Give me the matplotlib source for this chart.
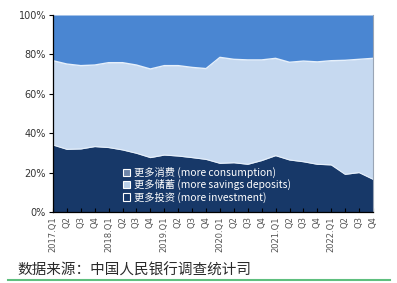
import numpy as np
import matplotlib
matplotlib.use("Agg")
import matplotlib.pyplot as plt
from matplotlib.patches import Patch
from matplotlib.lines import Line2D

# 季度标签
quarters = []
for y in range(2017, 2023):
    quarters += [f"{y}.Q1", "Q2", "Q3", "Q4"]

# 底部深色区域（%）
dark = [34.0, 31.8, 32.0, 33.2, 32.7, 31.5, 29.8, 27.6, 28.9, 28.4, 27.6, 26.7,
        24.7, 25.0, 24.2, 26.1, 28.6, 26.4, 25.5, 24.2, 23.9, 19.1, 20.0, 16.6]
# 浅色区域上沿（累计 %）
mid_top = [76.8, 75.1, 74.3, 74.6, 75.8, 75.8, 74.6, 72.6, 74.3, 74.3, 73.4, 72.8,
           78.5, 77.5, 77.2, 77.2, 78.0, 76.0, 76.6, 76.2, 76.8, 77.0, 77.5, 78.0]

legend_labels = ["更多消费 (more consumption)",
                 "更多储蓄 (more savings deposits)",
                 "更多投资 (more investment)"]

fig = plt.figure(figsize=(3.97, 2.83), dpi=100)
ax = fig.add_axes([0.1335, 0.251, 0.806, 0.696])

x = np.arange(len(quarters))
dark = np.array(dark)
mid_top = np.array(mid_top)

ax.fill_between(x, mid_top, 100, color="#4a86d2", lw=0)
ax.fill_between(x, dark, mid_top, color="#c6d9f0", lw=0)
ax.fill_between(x, 0, dark, color="#173868", lw=0)
ax.plot(x, mid_top, color="#e6f0fb", lw=1)
ax.plot(x, dark, color="#e6f0fb", lw=0.8)

ax.set_xlim(0, len(quarters) - 1)
ax.set_ylim(0, 100)
ax.set_yticks([0, 20, 40, 60, 80, 100])
ax.set_yticklabels([f"{v}%" for v in [0, 20, 40, 60, 80, 100]], fontsize=7, color="#333333")
ax.set_xticks(x)
ax.set_xticklabels(quarters, rotation=90, fontsize=6, color="#555555")
ax.tick_params(axis="y", direction="out", length=3, width=0.8, pad=2)
ax.tick_params(axis="x", direction="in", length=3, width=0.8, pad=3)
ax.spines["top"].set_visible(False)
ax.spines["right"].set_color("#9aa5b5")
ax.spines["right"].set_linewidth(0.8)
ax.spines["left"].set_linewidth(0.9)
ax.spines["bottom"].set_linewidth(0.9)

handles = [Patch(facecolor="#6e85a8", edgecolor="white", lw=0.8),
           Patch(facecolor="#b9d0ea", edgecolor="white", lw=0.8),
           Patch(facecolor="#173868", edgecolor="white", lw=0.8)]
leg = ax.legend(handles, legend_labels, loc="lower left", bbox_to_anchor=(0.19, 0.0),
                frameon=False, handlelength=0.7, handleheight=0.7, handletextpad=0.4,
                labelspacing=0.12,
                prop={"family": ["Noto Sans CJK SC", "DejaVu Sans"], "size": 7.4})
for t in leg.get_texts():
    t.set_color("white")

fig.text(0.043, 0.043, "数据来源：中国人民银行调查统计司", fontsize=10.5,
         family=["Noto Sans CJK SC", "DejaVu Sans"], color="#2a2a2a", va="center")
fig.add_artist(Line2D([0.02, 0.983], [0.012, 0.012], color="#5fbf7f", lw=1.5))

fig.savefig("out.png", dpi=100)
